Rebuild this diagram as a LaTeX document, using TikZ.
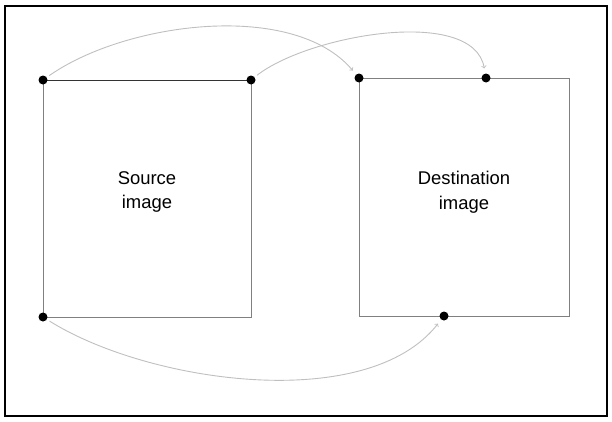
\documentclass[tikz,border=0pt]{standalone}
\usepackage{fontspec}
\setmainfont{Liberation Sans}

\begin{document}
\begin{tikzpicture}[x=1bp,y=1bp,->,
   dot/.style={circle,fill=black,inner sep=0pt,minimum size=9bp},
   arc/.style={draw=black!25,line width=0.9bp,shorten <=3bp,shorten >=5bp},
   lbl/.style={align=center,font=\fontsize{18.5}{25}\selectfont}]
   \useasboundingbox (0,0) rectangle (612,421);
   \draw[-,line width=2.2bp] (5,5) rectangle (607,415);

   \draw[-,black!50,line width=1bp] (43,341) -- (43,104) -- (251,104) -- (251,341);
   \draw[-,black!80,line width=1bp] (43,341) -- (251,341);
   \draw[-,black!50,line width=1bp] (359,343) rectangle (569,105);

   \node[dot] (s1) at (43,341) {};
   \node[dot] (s2) at (251,341) {};
   \node[dot] (s3) at (43,104) {};
   \node[dot] (d1) at (359,343) {};
   \node[dot] (d2) at (486,343) {};
   \node[dot] (d3) at (444,105) {};

   \node[lbl] (src) at (147,229) {Source\\image};
   \node[lbl] (dst) at (464,229) {Destination\\image};

   \path (s1) edge[arc,out=35,in=130,looseness=0.8] (d1);
   \path (s2) edge[arc,out=38,in=100,looseness=0.76] (d2);
   \path (s3) edge[arc,out=-32,in=-128,looseness=0.78] (d3);
\end{tikzpicture}
\end{document}
